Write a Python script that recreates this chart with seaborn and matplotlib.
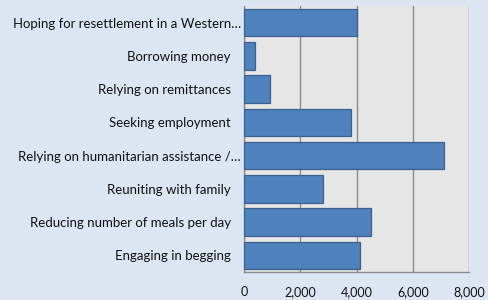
import pandas as pd
import seaborn as sns
import matplotlib.pyplot as plt
import matplotlib.transforms as mtransforms
from matplotlib.ticker import FuncFormatter, FixedLocator

categories = [
    "Hoping for resettlement in a Western\u2026",
    "Borrowing money",
    "Relying on remittances",
    "Seeking employment",
    "Relying on humanitarian assistance /\u2026",
    "Reuniting with family",
    "Reducing number of meals per day",
    "Engaging in begging",
]
counts = [4010, 405, 915, 3805, 7100, 2810, 4515, 4115]
x_ticks = [0, 2000, 4000, 6000, 8000]

df = pd.DataFrame({"strategy": categories, "count": counts})

sns.set_theme(style="white")
plt.rcParams['font.family'] = ['Lato', 'DejaVu Sans']

fig = plt.figure(figsize=(4.89, 3.0), dpi=100)
fig.patch.set_facecolor('#DCE6F2')
ax = fig.add_axes([244 / 489, 1 - 272 / 300, 225 / 489, 266 / 300])
ax.set_facecolor('#E6E6E6')

sns.barplot(data=df, y="strategy", x="count", ax=ax, color='#4F81BD',
            saturation=1, width=0.82, edgecolor='#3A6190', linewidth=0.9, zorder=3)

ax.set_xlim(0, 8000)
ax.set_xticks(x_ticks)
ax.xaxis.set_major_formatter(FuncFormatter(lambda v, p: f"{int(v):,}"))
ax.grid(axis='x', color='#8C8C8C', linewidth=1.0, zorder=0)
ax.set_axisbelow(True)
ax.set_xlabel('')
ax.set_ylabel('')

for s in ['top', 'right']:
    ax.spines[s].set_visible(False)
for s in ['left', 'bottom']:
    ax.spines[s].set_color('#8C8C8C')
    ax.spines[s].set_linewidth(1.0)

ax.tick_params(axis='x', length=0, pad=10, labelsize=9, colors='#111111')
ax.tick_params(axis='y', length=0, pad=9.5, labelsize=9.5, colors='#111111')
ax.yaxis.set_minor_locator(FixedLocator([i + 0.5 for i in range(-1, len(categories))]))
ax.tick_params(axis='y', which='minor', length=3, color='#8C8C8C', width=1)

# truncated labels sit closer to the axis, as in the source chart
shift = mtransforms.ScaledTranslation(10 / 100, 0, fig.dpi_scale_trans)
for lbl in ax.get_yticklabels():
    if lbl.get_text().endswith("\u2026"):
        lbl.set_transform(lbl.get_transform() + shift)

plt.savefig('out.png', dpi=100, facecolor=fig.get_facecolor())
